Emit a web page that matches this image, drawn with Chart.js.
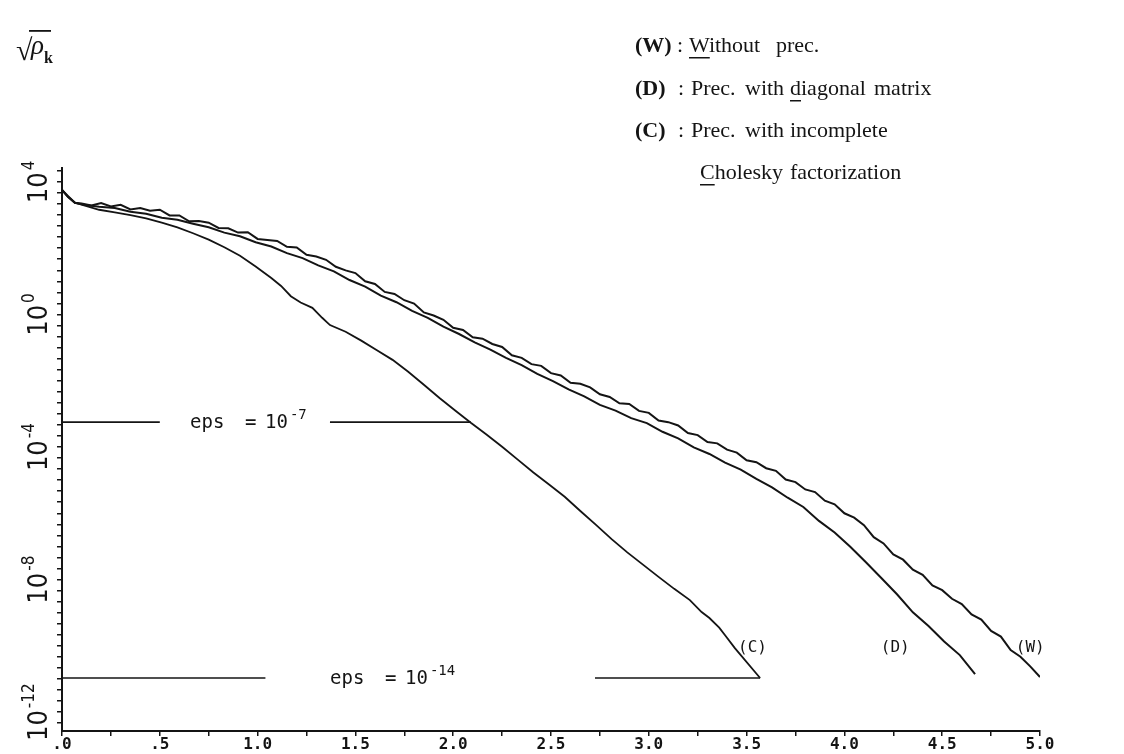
<!DOCTYPE html>
<html lang="en">
<head>
<meta charset="UTF-8">
<title>Convergence of sqrt(rho_k)</title>
<style>
  html, body { margin: 0; padding: 0; background: #fff; }
</style>
<script src="https://cdn.jsdelivr.net/npm/chart.js@4"></script>
</head>
<body>
<canvas id="chart" width="1124" height="754"></canvas>
<script>
// x position and log10 of sqrt(rho_k)
const wX = [0, 0.03, 0.066, 0.10, 0.15, 0.20, 0.25, 0.30, 0.35, 0.40, 0.45, 0.50, 0.55, 0.60, 0.65, 0.70, 0.75, 0.80, 0.85, 0.90,
  0.95, 1.00, 1.05, 1.10, 1.15, 1.20, 1.25, 1.30, 1.35, 1.40, 1.45, 1.50, 1.55, 1.60, 1.65, 1.70, 1.75, 1.80, 1.85, 1.90,
  1.95, 2.00, 2.05, 2.10, 2.15, 2.20, 2.25, 2.30, 2.35, 2.40, 2.45, 2.50, 2.55, 2.60, 2.65, 2.70, 2.75, 2.80, 2.85, 2.90,
  2.95, 3.00, 3.05, 3.10, 3.15, 3.20, 3.25, 3.30, 3.35, 3.40, 3.45, 3.50, 3.55, 3.60, 3.65, 3.70, 3.75, 3.80, 3.85, 3.90,
  3.95, 4.00, 4.05, 4.10, 4.15, 4.20, 4.25, 4.30, 4.35, 4.40, 4.45, 4.50, 4.55, 4.60, 4.65, 4.70, 4.75, 4.80, 4.85, 4.90,
  4.95, 5.00];
const wExp = [3.76, 3.58, 3.37,
  3.35, 3.29, 3.36, 3.26, 3.31, 3.17, 3.21, 3.13, 3.16, 2.99,
  2.99, 2.81, 2.82, 2.77, 2.61, 2.60, 2.47, 2.48, 2.28, 2.25,
  2.22, 2.04, 2.02, 1.80, 1.75, 1.65, 1.44, 1.33, 1.25, 1.00,
  0.92, 0.68, 0.62, 0.43, 0.33, 0.06, -0.03, -0.16, -0.40, -0.47,
  -0.69, -0.73, -0.89, -0.98, -1.23, -1.31, -1.50, -1.55, -1.77, -1.84,
  -2.06, -2.09, -2.20, -2.41, -2.49, -2.68, -2.70, -2.91, -2.97, -3.20,
  -3.25, -3.35, -3.58, -3.64, -3.85, -3.89, -4.08, -4.17, -4.40, -4.46,
  -4.64, -4.72, -4.98, -5.06, -5.28, -5.36, -5.62, -5.73, -6.00, -6.13,
  -6.36, -6.72, -6.91, -7.24, -7.40, -7.70, -7.86, -8.18, -8.32, -8.58,
  -8.74, -9.05, -9.21, -9.55, -9.72, -10.13, -10.33, -10.62, -10.94];

const dX = [0, 0.03, 0.066, 0.12, 0.19, 0.27, 0.35, 0.43, 0.51, 0.59, 0.67, 0.75, 0.83, 0.91, 0.99, 1.07, 1.15, 1.23, 1.31, 1.39,
  1.47, 1.55, 1.63, 1.71, 1.79, 1.87, 1.95, 2.03, 2.11, 2.19, 2.27, 2.35, 2.43, 2.51, 2.59, 2.67, 2.75, 2.83, 2.91, 2.99,
  3.07, 3.15, 3.23, 3.31, 3.39, 3.47, 3.55, 3.63, 3.71, 3.79, 3.87, 3.95, 4.03, 4.11, 4.19, 4.27, 4.35, 4.43, 4.51, 4.59, 4.668];
const dExp = [3.76, 3.55, 3.37, 3.30, 3.25, 3.21, 3.10, 3.04, 2.92, 2.86, 2.74, 2.63, 2.47, 2.36, 2.18, 2.05, 1.85, 1.70, 1.48, 1.30,
  1.04, 0.84, 0.57, 0.37, 0.11, -0.10, -0.37, -0.59, -0.84, -1.06, -1.31, -1.53, -1.79, -2.01, -2.26, -2.47, -2.73, -2.90, -3.13, -3.28,
  -3.54, -3.74, -4.01, -4.21, -4.47, -4.68, -4.96, -5.22, -5.53, -5.81, -6.23, -6.58, -7.01, -7.48, -7.96, -8.45, -8.99, -9.40, -9.87, -10.28, -10.85];

const cX = [0, 0.03, 0.066, 0.13, 0.19, 0.27, 0.35, 0.43, 0.51, 0.59, 0.67, 0.75, 0.83, 0.91, 0.99, 1.07, 1.12, 1.17, 1.22, 1.28,
  1.33, 1.37, 1.45, 1.53, 1.61, 1.69, 1.77, 1.85, 1.93, 2.01, 2.09, 2.17, 2.25, 2.33, 2.41, 2.49, 2.57, 2.65, 2.73, 2.81,
  2.89, 2.97, 3.05, 3.13, 3.21, 3.27, 3.31, 3.36, 3.39, 3.44, 3.569];
const cExp = [3.76, 3.55, 3.37, 3.26, 3.16, 3.08, 3.00, 2.90, 2.77, 2.63, 2.45, 2.26, 2.03, 1.77, 1.45, 1.10, 0.86, 0.55, 0.36, 0.20,
  -0.10, -0.32, -0.52, -0.79, -1.08, -1.37, -1.73, -2.12, -2.52, -2.90, -3.27, -3.62, -3.99, -4.38, -4.77, -5.13, -5.50, -5.93, -6.35, -6.78,
  -7.18, -7.55, -7.92, -8.28, -8.62, -8.98, -9.16, -9.45, -9.68, -10.07, -10.97];

const xTickLabels = ['.0', '.5', '1.0', '1.5', '2.0', '2.5', '3.0', '3.5', '4.0', '4.5', '5.0'];
const yTickExps = [4, 0, -4, -8, -12];

// stopping levels (log10 on the y axis), eps exponent, and the drawn pieces of each line
const epsLevels = [-3.25, -10.97];
const epsNames = ['-7', '-14'];
const epsPieces = [[[0, 0.50], [1.37, 2.09]], [[0, 1.04], [2.725, 3.569]]];

const curveNames = ['(W)', '(D)', '(C)'];

const INK = '#141414';
const pts = (xs, es) => xs.map((x, i) => ({ x: x, y: Math.pow(10, es[i]) }));

const datasets = [
  { data: pts(wX, wExp), borderWidth: 2 },
  { data: pts(dX, dExp), borderWidth: 2 },
  { data: pts(cX, cExp), borderWidth: 1.8 }
];
epsLevels.forEach((lv, i) => {
  epsPieces[i].forEach(p => {
    datasets.push({ data: [{ x: p[0], y: Math.pow(10, lv) }, { x: p[1], y: Math.pow(10, lv) }], borderWidth: 1.6 });
  });
});
datasets.forEach(d => { d.borderColor = INK; d.pointRadius = 0; d.fill = false; });

function txt(ctx, s, x, y, font) {
  ctx.font = font;
  ctx.fillText(s, x, y);
  return ctx.measureText(s).width;
}

const labels = {
  id: 'labels',
  afterDraw(chart) {
    const { ctx } = chart;
    const xs = chart.scales.x, ys = chart.scales.y;
    ctx.save();
    ctx.fillStyle = INK;
    ctx.textBaseline = 'alphabetic';
    ctx.textAlign = 'left';

    // rotated powers of ten on the y axis
    const big = '27px "Liberation Sans Narrow", "DejaVu Sans Condensed", sans-serif';
    const small = '17px "Liberation Sans Narrow", "DejaVu Sans Condensed", sans-serif';
    yTickExps.forEach(e => {
      const py = ys.getPixelForValue(Math.pow(10, e));
      ctx.save();
      ctx.translate(47, py);
      ctx.rotate(-Math.PI / 2);
      ctx.font = big;
      const w1 = ctx.measureText('10').width;
      ctx.font = small;
      const w2 = ctx.measureText(String(e)).width;
      const s = -(w1 + w2 + 2) / 2;
      txt(ctx, '10', s, 0, big);
      txt(ctx, String(e), s + w1 + 2, -13, small);
      ctx.restore();
    });

    // axis title: sqrt(rho_k)
    txt(ctx, '\u221A', 16, 60, '30px "Liberation Serif", serif');
    txt(ctx, '\u03C1', 31, 54, 'italic 27px "Liberation Serif", serif');
    ctx.fillRect(29, 30, 22, 1.8);
    txt(ctx, 'k', 44, 63, 'bold 16px "Liberation Serif", serif');

    // legend text, top right
    const serif = '22px "Liberation Serif", serif';
    const serifB = 'bold 22px "Liberation Serif", serif';
    const rows = [
      { y: 52, parts: [['(W)', 635, serifB], [':', 677, serif], ['Without', 689, serif], ['prec.', 776, serif]], under: [689, 'W'] },
      { y: 95, parts: [['(D)', 635, serifB], [':', 678, serif], ['Prec.', 691, serif], ['with', 745, serif], ['diagonal', 790, serif], ['matrix', 874, serif]], under: [790, 'd'] },
      { y: 137, parts: [['(C)', 635, serifB], [':', 678, serif], ['Prec.', 691, serif], ['with', 745, serif], ['incomplete', 790, serif]] },
      { y: 179, parts: [['Cholesky', 700, serif], ['factorization', 790, serif]], under: [700, 'C'] }
    ];
    rows.forEach(r => {
      r.parts.forEach(p => txt(ctx, p[0], p[1], r.y, p[2]));
      if (r.under) {
        ctx.font = serif;
        const uw = ctx.measureText(r.under[1]).width;
        ctx.fillRect(r.under[0], r.y + 5, uw, 1.5);
      }
    });

    // eps labels sitting in the gaps of the stopping lines
    const mono = '19px "DejaVu Sans Mono", monospace';
    const monoS = '14px "DejaVu Sans Mono", monospace';
    const epsX = [190, 330];
    epsLevels.forEach((lv, i) => {
      const py = ys.getPixelForValue(Math.pow(10, lv)) + 6;
      const x0 = epsX[i];
      txt(ctx, 'eps', x0, py, mono);
      txt(ctx, '=', x0 + 55, py, mono);
      const w = txt(ctx, '10', x0 + 75, py, mono);
      txt(ctx, epsNames[i], x0 + 77 + w, py - 9, monoS);
    });

    // curve names near the ends of the curves
    const nameAt = [[4.95, -10.07], [4.26, -10.07], [3.53, -10.07]];
    ctx.textAlign = 'center';
    ctx.textBaseline = 'middle';
    curveNames.forEach((n, i) => {
      txt(ctx, n, xs.getPixelForValue(nameAt[i][0]), ys.getPixelForValue(Math.pow(10, nameAt[i][1])), '16px "DejaVu Sans Mono", monospace');
    });
    ctx.restore();
  }
};

new Chart(document.getElementById('chart'), {
  type: 'line',
  data: { datasets: datasets },
  options: {
    responsive: false,
    animation: false,
    devicePixelRatio: 1,
    layout: { padding: { left: 57, top: 168, right: 84, bottom: 0 } },
    plugins: { legend: { display: false }, tooltip: { enabled: false } },
    elements: { line: { tension: 0 } },
    scales: {
      x: {
        type: 'linear',
        min: 0,
        max: 5,
        grid: { display: true, drawOnChartArea: false, drawTicks: true, tickLength: 5, color: INK, lineWidth: 1.5 },
        border: { display: true, color: INK, width: 2 },
        ticks: {
          stepSize: 0.25,
          autoSkip: false,
          maxRotation: 0,
          padding: 1,
          color: INK,
          font: { family: '"DejaVu Sans Mono", monospace', size: 16, weight: 'bold', lineHeight: 1 },
          callback: v => {
            const k = Math.round(v * 2);
            return Math.abs(v * 2 - k) < 1e-6 ? xTickLabels[k] : '';
          }
        }
      },
      y: {
        type: 'logarithmic',
        min: Math.pow(10, -12.57),
        max: Math.pow(10, 4.42),
        grid: { display: true, drawOnChartArea: false, drawTicks: true, tickLength: 5, color: INK, lineWidth: 1.5 },
        border: { display: true, color: INK, width: 2 },
        ticks: { display: false },
        afterBuildTicks: s => {
          const t = [];
          for (let k = -37; k <= 13; k++) t.push({ value: Math.pow(10, k / 3) });
          s.ticks = t;
        }
      }
    }
  },
  plugins: [labels]
});
</script>
</body>
</html>
